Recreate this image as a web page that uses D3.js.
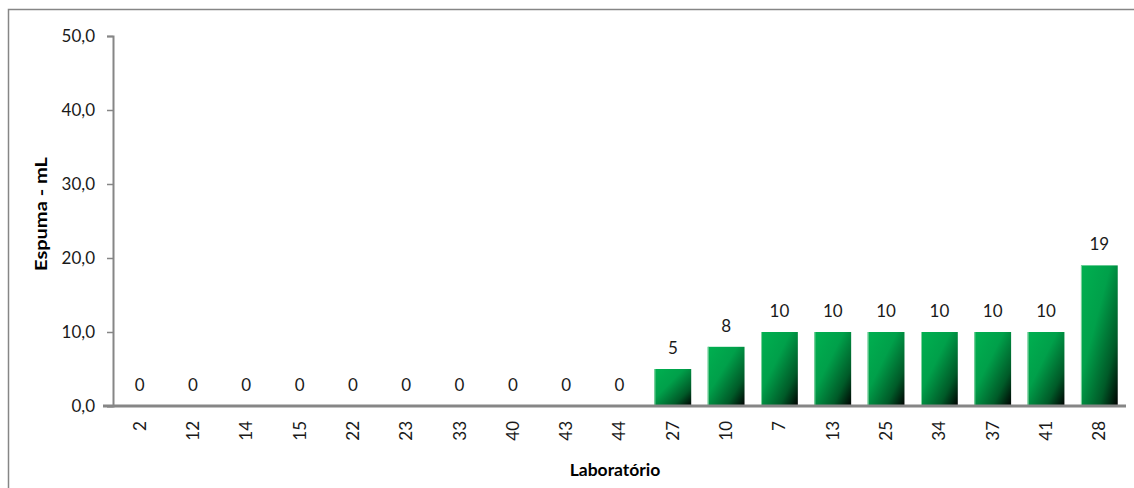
<!DOCTYPE html>
<html>
<head>
<meta charset="utf-8">
<script src="https://cdn.jsdelivr.net/npm/d3@7"></script>
<style>
  html, body { margin: 0; padding: 0; background: #fff; }
  svg { display: block; }
  text { font-family: Lato, "Open Sans", sans-serif; }
</style>
</head>
<body>
<script>
// Foam volume per laboratory
const laboratorios = ["2", "12", "14", "15", "22", "23", "33", "40", "43", "44", "27", "10", "7", "13", "25", "34", "37", "41", "28"];
const espuma = [0, 0, 0, 0, 0, 0, 0, 0, 0, 0, 5, 8, 10, 10, 10, 10, 10, 10, 19];
const yTicks = [0, 10, 20, 30, 40, 50];

const W = 1134, H = 488;
const margin = { left: 113, right: 8, top: 36, bottom: 82 };

const svg = d3.select("body").append("svg")
  .attr("width", W).attr("height", H);

// chart area frame
svg.append("rect")
  .attr("x", 8.5).attr("y", 9.5)
  .attr("width", W + 10).attr("height", H + 10)
  .attr("fill", "none").attr("stroke", "#868686").attr("stroke-width", 1.5);

const defs = svg.append("defs");
const grad = defs.append("linearGradient")
  .attr("id", "barFill")
  .attr("x1", "0").attr("y1", "0").attr("x2", "1").attr("y2", "1");
grad.append("stop").attr("offset", "0").attr("stop-color", "#00b050");
grad.append("stop").attr("offset", "0.4").attr("stop-color", "#00a04a");
grad.append("stop").attr("offset", "0.75").attr("stop-color", "#005a28");
grad.append("stop").attr("offset", "1").attr("stop-color", "#000000");

const x = d3.scaleBand()
  .domain(laboratorios)
  .range([margin.left, W - margin.right])
  .paddingInner(0.31)
  .paddingOuter(0.155);

const y = d3.scaleLinear()
  .domain([0, 50])
  .range([H - margin.bottom, margin.top]);

// y axis
const yAxis = svg.append("g")
  .attr("transform", `translate(${margin.left},0)`)
  .call(d3.axisLeft(y).tickValues(yTicks).tickSize(6).tickPadding(12)
    .tickFormat(d => d3.format(".1f")(d).replace(".", ",")));
yAxis.select(".domain").attr("stroke", "#868686").attr("stroke-width", 2);
yAxis.selectAll(".tick line").attr("stroke", "#868686").attr("stroke-width", 1.5);
yAxis.selectAll(".tick text")
  .attr("fill", "#1a1a1a")
  .style("font-size", "17px");

// bars
svg.append("g").selectAll("rect")
  .data(espuma)
  .join("rect")
  .attr("x", (d, i) => x(laboratorios[i]))
  .attr("y", d => y(d))
  .attr("width", x.bandwidth())
  .attr("height", d => y(0) - y(d))
  .attr("fill", "url(#barFill)");

// thin light edges on bars
svg.append("g").selectAll("line")
  .data(espuma.map((d, i) => ({ d, i })).filter(o => o.d > 0))
  .join("line")
  .attr("x1", o => x(laboratorios[o.i]) + 0.5)
  .attr("x2", o => x(laboratorios[o.i]) + 0.5)
  .attr("y1", o => y(o.d))
  .attr("y2", y(0))
  .attr("stroke", "#7fd4a0").attr("stroke-width", 1);

// x axis
const xAxis = svg.append("g")
  .attr("transform", `translate(0,${y(0)})`)
  .call(d3.axisBottom(x).tickSize(0).tickPadding(0));
xAxis.select(".domain").attr("stroke", "#868686").attr("stroke-width", 3)
  .attr("d", `M${margin.left - 10},0H${W - margin.right}`);
xAxis.selectAll(".tick text")
  .attr("fill", "#1a1a1a")
  .style("font-size", "17px")
  .attr("text-anchor", "end")
  .attr("dy", "0.35em")
  .attr("transform", "translate(0,15) rotate(-90)")
  .attr("x", 0).attr("y", 0);

// value labels
svg.append("g").selectAll("text")
  .data(espuma)
  .join("text")
  .attr("x", (d, i) => x(laboratorios[i]) + x.bandwidth() / 2)
  .attr("y", d => y(d) - 15)
  .attr("text-anchor", "middle")
  .attr("fill", "#1a1a1a")
  .style("font-size", "17px")
  .text(d => d);

// axis titles
svg.append("text")
  .attr("x", 615)
  .attr("y", 476)
  .attr("text-anchor", "middle")
  .style("font-size", "17.5px").style("font-weight", "bold")
  .attr("fill", "#000")
  .text("Laboratório");

svg.append("text")
  .attr("transform", "translate(47,214) rotate(-90)")
  .attr("text-anchor", "middle")
  .attr("textLength", 114)
  .attr("lengthAdjust", "spacingAndGlyphs")
  .style("font-size", "17.5px").style("font-weight", "bold")
  .attr("fill", "#000")
  .text("Espuma - mL");
</script>
</body>
</html>
